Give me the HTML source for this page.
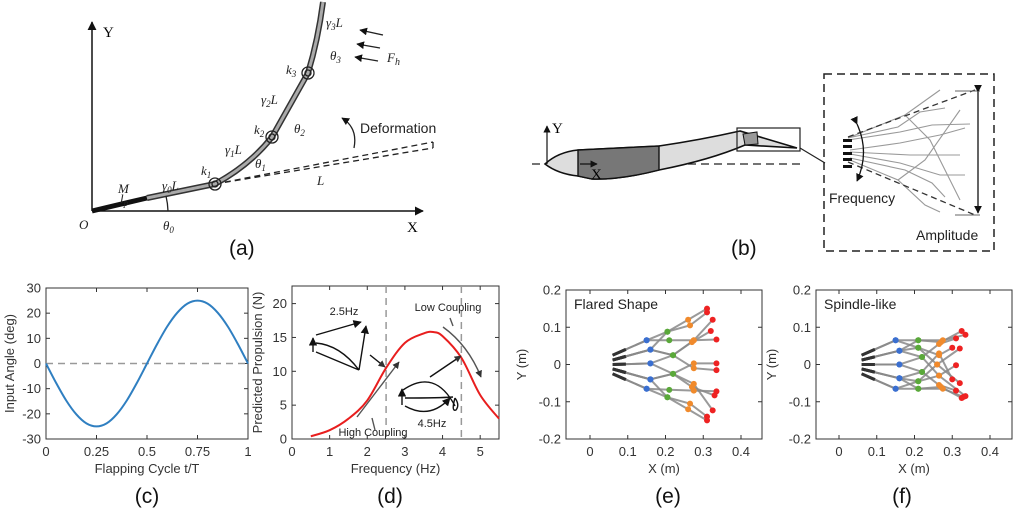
<!DOCTYPE html>
<html><head><meta charset="utf-8"><style>
html,body{margin:0;padding:0;background:#fff}
svg{display:block;font-family:"Liberation Sans",sans-serif}
.tk{font-size:13px;fill:#333}
.it{font-family:"Liberation Serif",serif;font-style:italic;font-size:13px;fill:#222}
.pl{font-size:21px;fill:#111}
</style></head><body>
<svg id="fig" width="1024" height="515" viewBox="0 0 1024 515">
<defs>
<marker id="ar" viewBox="0 0 10 10" refX="9" refY="5" markerWidth="6" markerHeight="6" orient="auto"><path d="M0,0L10,5L0,10z" fill="#111"/></marker>
<marker id="ar2" viewBox="0 0 10 10" refX="9" refY="5" markerWidth="5" markerHeight="5" orient="auto"><path d="M0,0L10,5L0,10z" fill="#333"/></marker>
</defs>
<!-- panel a -->
<g>
<line x1="92" y1="211" x2="423" y2="211" stroke="#111" stroke-width="1.5" marker-end="url(#ar)"/>
<line x1="92" y1="211" x2="92" y2="22" stroke="#111" stroke-width="1.5" marker-end="url(#ar)"/>
<text x="103" y="37" font-family="Liberation Serif" font-size="15">Y</text>
<text x="407" y="232" font-family="Liberation Serif" font-size="15">X</text>
<text x="79" y="229" class="it" font-size="15">O</text>
<path d="M215,184 L433,142 M215,184 L433,148 M433,142 L433,148" stroke="#222" stroke-width="1.3" stroke-dasharray="6,4" fill="none"/>
<path d="M92,211 L147,198" stroke="#111" stroke-width="5"/>
<path d="M147,198 L215,184 Q250,165 272,137 L308,73 Q318,40 323,2" stroke="#333" stroke-width="6" fill="none"/>
<path d="M147,198 L215,184 Q250,165 272,137 L308,73 Q318,40 323,2" stroke="#aaa" stroke-width="3" fill="none"/>
<g fill="none" stroke="#222" stroke-width="1.3">
<circle cx="215" cy="184" r="6"/><circle cx="215" cy="184" r="3"/>
<circle cx="272" cy="137" r="6"/><circle cx="272" cy="137" r="3"/>
<circle cx="308" cy="73" r="6"/><circle cx="308" cy="73" r="3"/>
<path d="M168,211 A76,76 0 0 0 166,196"/>
<path d="M354,148 Q358,128 342,118" marker-end="url(#ar)"/>
<line x1="383" y1="35" x2="360" y2="30" marker-end="url(#ar)"/>
<line x1="380" y1="48" x2="357" y2="44" marker-end="url(#ar)"/>
<line x1="378" y1="61" x2="355" y2="57" marker-end="url(#ar)"/>
</g>
<text x="118" y="193" class="it">M</text><text x="120" y="203" class="it">l<tspan font-size="9" dy="3">p</tspan></text>
<text x="162" y="190" class="it">γ<tspan font-size="9" dy="3">0</tspan><tspan dy="-3">L</tspan></text>
<text x="201" y="175" class="it">k<tspan font-size="9" dy="3">1</tspan></text>
<text x="225" y="154" class="it">γ<tspan font-size="9" dy="3">1</tspan><tspan dy="-3">L</tspan></text>
<text x="255" y="168" class="it">θ<tspan font-size="9" dy="3">1</tspan></text>
<text x="254" y="134" class="it">k<tspan font-size="9" dy="3">2</tspan></text>
<text x="261" y="104" class="it">γ<tspan font-size="9" dy="3">2</tspan><tspan dy="-3">L</tspan></text>
<text x="294" y="133" class="it">θ<tspan font-size="9" dy="3">2</tspan></text>
<text x="286" y="74" class="it">k<tspan font-size="9" dy="3">3</tspan></text>
<text x="326" y="27" class="it">γ<tspan font-size="9" dy="3">3</tspan><tspan dy="-3">L</tspan></text>
<text x="330" y="60" class="it">θ<tspan font-size="9" dy="3">3</tspan></text>
<text x="387" y="62" class="it" font-size="15">F<tspan font-size="10" dy="3">h</tspan></text>
<text x="317" y="185" class="it">L</text>
<text x="163" y="230" class="it">θ<tspan font-size="9" dy="3">0</tspan></text>
<text x="360" y="133" font-size="14" fill="#222">Deformation</text>
<text x="229" y="255" class="pl">(a)</text>
</g>
<!-- panel b -->
<g>
<line x1="532" y1="164" x2="800" y2="164" stroke="#222" stroke-width="1.2" stroke-dasharray="8,5"/>
<path d="M545,164 Q558,152 578,150 L659,146 Q700,140 740,131 L797,148 L745,145 Q710,160 659,170 Q620,180 592,179 L578,176 Q558,174 545,164Z" fill="#ddd" stroke="#111" stroke-width="1.6"/>
<path d="M578,150 L659,146 L659,170 Q620,180 592,179 L578,176Z" fill="#777" stroke="#111" stroke-width="1.4"/>
<path d="M743,134 L757,132 L758,144 L745,145Z" fill="#999" stroke="#111"/>
<rect x="737" y="128" width="63" height="23" fill="none" stroke="#222" stroke-width="1.2"/>
<line x1="800" y1="148" x2="825" y2="163" stroke="#222" stroke-width="1.2"/>
<line x1="547" y1="164" x2="547" y2="126" stroke="#111" stroke-width="1.2" marker-end="url(#ar)"/>
<line x1="580" y1="164" x2="597" y2="164" stroke="#111" stroke-width="1.2" marker-end="url(#ar)"/>
<text x="552" y="133" font-family="Liberation Serif" font-size="15">Y</text>
<text x="591" y="179" font-family="Liberation Serif" font-size="15">X</text>
<rect x="824" y="74" width="170" height="177" fill="none" stroke="#222" stroke-width="1.5" stroke-dasharray="8,5"/>
<g stroke="#999" stroke-width="1.1" fill="none">
<path d="M848,138 L905,115 L940,90 M848,138 L898,127 L920,112 L945,108 M848,140 L900,132 L932,125 L970,124 M850,150 L900,143 L940,135 L965,128 M850,152 L910,155 L960,155 M850,154 L900,163 L940,175 L965,175 M850,158 L905,170 L932,183 L945,197 M850,160 L898,180 L925,205 L940,212"/>
<path d="M905,115 L930,140 L950,180 L960,200 M898,180 L925,160 L960,110"/>
</g>
<path d="M848,137 L975,90 M848,162 L975,215" stroke="#333" stroke-width="1.3" stroke-dasharray="6,4" fill="none"/>
<line x1="955" y1="91" x2="980" y2="91" stroke="#666"/><line x1="955" y1="215" x2="980" y2="215" stroke="#666"/>
<line x1="978" y1="92" x2="978" y2="213" stroke="#111" stroke-width="1.3" marker-end="url(#ar)" marker-start="url(#ar)"/>
<path d="M857,124 Q870,152 857,181" stroke="#111" stroke-width="1.3" fill="none" marker-end="url(#ar)" marker-start="url(#ar)"/>
<g fill="#111"><rect x="843" y="139" width="9" height="3"/><rect x="843" y="145" width="9" height="3"/><rect x="843" y="152" width="9" height="3"/><rect x="843" y="158" width="9" height="3"/><rect x="843" y="165" width="9" height="3"/></g>
<text x="829" y="203" font-size="14" fill="#222">Frequency</text>
<text x="916" y="240" font-size="14" fill="#222">Amplitude</text>
<text x="731" y="255" class="pl">(b)</text>
</g>
<g id="charts"></g>
</svg>
<script>
// panel c data
const cT=[0,0.05,0.1,0.15,0.2,0.25,0.3,0.35,0.4,0.45,0.5,0.55,0.6,0.65,0.7,0.75,0.8,0.85,0.9,0.95,1];
const cAngle=[0,-7.7,-14.7,-20.2,-23.8,-25,-23.8,-20.2,-14.7,-7.7,0,7.7,14.7,20.2,23.8,25,23.8,20.2,14.7,7.7,0];
const cXTicks=[0,0.25,0.5,0.75,1];
const cXLabels=["0","0.25","0.5","0.75","1"];
const cYTicks=[-30,-20,-10,0,10,20,30];
// panel d data
const dFreq=[0.5,1,1.5,2,2.5,3,3.5,3.75,4,4.5,5,5.5];
const dThrust=[0.4,1.3,3,5.7,10.5,14.2,15.6,15.8,15.2,12,6.5,3];
const dXTicks=[0,1,2,3,4,5];
const dYTicks=[0,5,10,15,20];
const dMarkers=[2.5,4.5];
// panel e/f data: polylines base->blue->green->orange->red
const eRays=[
[[0.06,0.025],[0.15,0.065],[0.205,0.088],[0.26,0.12],[0.31,0.15]],
[[0.06,0.025],[0.15,0.065],[0.21,0.065],[0.275,0.065],[0.335,0.067]],
[[0.06,0.012],[0.16,0.04],[0.205,0.088],[0.265,0.105],[0.31,0.14]],
[[0.06,0.012],[0.16,0.04],[0.22,0.025],[0.275,0.065],[0.325,0.12]],
[[0.06,0.012],[0.16,0.04],[0.22,0.025],[0.27,0.06],[0.32,0.09]],
[[0.06,0],[0.16,0.003],[0.22,0.025],[0.275,-0.01],[0.335,-0.015]],
[[0.06,0],[0.16,0.003],[0.22,-0.025],[0.275,0.003],[0.335,0.003]],
[[0.06,-0.012],[0.16,-0.04],[0.22,-0.025],[0.27,-0.06],[0.33,-0.083]],
[[0.06,-0.012],[0.16,-0.04],[0.205,-0.088],[0.265,-0.105],[0.31,-0.14]],
[[0.06,-0.025],[0.15,-0.065],[0.205,-0.088],[0.26,-0.12],[0.31,-0.15]],
[[0.06,-0.025],[0.15,-0.065],[0.21,-0.068],[0.275,-0.07],[0.335,-0.072]],
[[0.06,-0.012],[0.16,-0.04],[0.22,-0.025],[0.275,-0.052],[0.325,-0.123]]];
const fRays=[
[[0.06,0.025],[0.15,0.065],[0.21,0.065],[0.27,0.06],[0.325,0.09]],
[[0.06,0.025],[0.15,0.065],[0.21,0.045],[0.265,0.025],[0.3,0.045]],
[[0.06,0.012],[0.16,0.037],[0.21,0.065],[0.275,0.065],[0.335,0.08]],
[[0.06,0.012],[0.16,0.037],[0.22,0.02],[0.265,0.055],[0.31,0.07]],
[[0.06,0.012],[0.16,0.037],[0.21,0.045],[0.26,0.0],[0.32,0.043]],
[[0.06,0],[0.16,0],[0.22,0.02],[0.265,-0.03],[0.31,-0.002]],
[[0.06,0],[0.16,0],[0.22,-0.02],[0.265,0.03],[0.3,-0.04]],
[[0.06,-0.012],[0.16,-0.037],[0.21,-0.045],[0.26,0.0],[0.32,-0.05]],
[[0.06,-0.012],[0.16,-0.037],[0.22,-0.02],[0.265,-0.055],[0.31,-0.07]],
[[0.06,-0.025],[0.15,-0.065],[0.21,-0.065],[0.27,-0.06],[0.325,-0.09]],
[[0.06,-0.025],[0.15,-0.065],[0.21,-0.045],[0.265,-0.03],[0.335,-0.085]],
[[0.06,-0.012],[0.16,-0.037],[0.21,-0.065],[0.275,-0.065],[0.33,-0.087]]];
const efXTicks=[0,0.1,0.2,0.3,0.4];
const efYTicks=[-0.2,-0.1,0,0.1,0.2];
const nodeColors=["#333","#3a6fd0","#5aa83a","#f08a2c","#ee2222"];

const NS="http://www.w3.org/2000/svg";
const root=document.getElementById('charts');
function mk(tag,attrs,parent){const e=document.createElementNS(NS,tag);for(const k in attrs)e.setAttribute(k,attrs[k]);(parent||root).appendChild(e);return e;}
function lin(d0,d1,r0,r1){return v=>r0+(v-d0)/(d1-d0)*(r1-r0);}
function axes(g,L,R,T,B,sx,sy,xt,xl,yt,yl,xlab,ylab,ylabX){
 mk('rect',{x:L,y:T,width:R-L,height:B-T,fill:'none',stroke:'#333','stroke-width':1},g);
 xt.forEach((v,i)=>{const x=sx(v);mk('line',{x1:x,y1:B,x2:x,y2:B-4,stroke:'#333'},g);mk('line',{x1:x,y1:T,x2:x,y2:T+4,stroke:'#333'},g);
  const t=mk('text',{x:x,y:B+17,'text-anchor':'middle',class:'tk'},g);t.textContent=xl[i];});
 yt.forEach((v,i)=>{const y=sy(v);mk('line',{x1:L,y1:y,x2:L+4,y2:y,stroke:'#333'},g);mk('line',{x1:R,y1:y,x2:R-4,y2:y,stroke:'#333'},g);
  const t=mk('text',{x:L-5,y:y+4.5,'text-anchor':'end',class:'tk'},g);t.textContent=yl[i];});
 const a=mk('text',{x:(L+R)/2,y:B+34,'text-anchor':'middle',class:'tk','font-size':'13'},g);a.textContent=xlab;
 const b=mk('text',{x:ylabX,y:(T+B)/2,'text-anchor':'middle',class:'tk','font-size':'13',transform:`rotate(-90 ${ylabX} ${(T+B)/2})`},g);b.textContent=ylab;
}
function pathOf(xs,ys,sx,sy){return xs.map((v,i)=>(i?'L':'M')+sx(v).toFixed(1)+','+sy(ys[i]).toFixed(1)).join('');}
function smooth(xs,ys,sx,sy){const p=xs.map((v,i)=>[sx(v),sy(ys[i])]);let d='M'+p[0];for(let i=0;i<p.length-1;i++){const p0=p[i-1]||p[i],p1=p[i],p2=p[i+1],p3=p[i+2]||p2;
 d+='C'+(p1[0]+(p2[0]-p0[0])/6)+','+(p1[1]+(p2[1]-p0[1])/6)+' '+(p2[0]-(p3[0]-p1[0])/6)+','+(p2[1]-(p3[1]-p1[1])/6)+' '+p2;}return d;}

// panel c
{const g=mk('g',{});
 const L=46,R=248,T=288,B=439,sx=lin(0,1,L,R),sy=lin(-30,30,B,T);
 axes(g,L,R,T,B,sx,sy,cXTicks,cXLabels,cYTicks,cYTicks.map(String),'Flapping Cycle t/T','Input Angle (deg)',14);
 const z=mk('line',{x1:L,x2:R,y1:sy(0),y2:sy(0),stroke:'#999','stroke-width':1.5,'stroke-dasharray':'7,5'},g);
 
 const p=mk('path',{d:smooth(cT,cAngle,sx,sy),fill:'none',stroke:'#2f7fc1','stroke-width':2},g);
 
 const l=mk('text',{x:147,y:503,'text-anchor':'middle',class:'pl'},g);l.textContent='(c)';
 }
// panel d
{const g=mk('g',{});
 const L=292,R=499,T=286,B=439,sx=lin(0,5.5,L,R),sy=lin(0,22.6,B,T);
 axes(g,L,R,T,B,sx,sy,dXTicks,dXTicks.map(String),dYTicks,dYTicks.map(String),'Frequency (Hz)','Predicted Propulsion (N)',262);
 dMarkers.forEach(f=>{const m=mk('line',{x1:sx(f),x2:sx(f),y1:T,y2:B,stroke:'#999','stroke-width':1.5,'stroke-dasharray':'7,5'},g);
  });
 const p=mk('path',{d:smooth(dFreq,dThrust,sx,sy),fill:'none',stroke:'#e81e1e','stroke-width':2},g);
 
 const an=mk('g',{stroke:'#111','stroke-width':1.4,fill:'none'},g);
 
 mk('path',{d:'M313,352 L313,338','marker-end':'url(#ar)'},an);
 mk('path',{d:'M316,335 L361,322','marker-end':'url(#ar)'},an);
 mk('path',{d:'M316,343 Q340,345 359,370 M316,352 L359,370'},an);
 mk('path',{d:'M359,370 L366,326','marker-end':'url(#ar)'},an);
 mk('path',{d:'M370,355 L385,367','marker-end':'url(#ar2)'},an);
 mk('path',{d:'M402,405 L402,389','marker-end':'url(#ar)'},an);
 mk('path',{d:'M403,390 Q435,368 455,406'},an);
 mk('path',{d:'M405,398 Q440,398 453,397 M405,406 Q430,420 450,398','marker-end':'url(#ar)'},an);
 mk('path',{d:'M455,398 Q451,412 456,410 Q460,405 455,398'},an);
 mk('path',{d:'M430,377 L461,356','marker-end':'url(#ar2)'},an);
 mk('path',{d:'M357,417 L399,362',stroke:'#555','marker-end':'url(#ar2)'},an);
 mk('path',{d:'M443,327 Q468,345 481,377',stroke:'#555','marker-end':'url(#ar2)'},an);
 mk('path',{d:'M372,418 L375,430 M453,326 L450,318',stroke:'#555'},an);
 const t1=mk('text',{x:344,y:315,'text-anchor':'middle','font-size':'11',fill:'#222'},g);t1.textContent='2.5Hz';
 const t2=mk('text',{x:448,y:311,'text-anchor':'middle','font-size':'11',fill:'#222'},g);t2.textContent='Low Coupling';
 const t3=mk('text',{x:373,y:436,'text-anchor':'middle','font-size':'11',fill:'#222'},g);t3.textContent='High Coupling';
 const t4=mk('text',{x:432,y:427,'text-anchor':'middle','font-size':'11',fill:'#222'},g);t4.textContent='4.5Hz';
 const l=mk('text',{x:390,y:503,'text-anchor':'middle',class:'pl'},g);l.textContent='(d)';
 }
// panels e,f
function finPanel(name,rays,L,R,x0,x4,title,lbl,lx){
 const g=mk('g',{});
 const T=290,B=439,sx=lin(0,0.4,x0,x4),sy=lin(-0.2,0.2,B,T);
 axes(g,L,R,T,B,sx,sy,efXTicks,efXTicks.map(String),efYTicks,efYTicks.map(String),'X (m)','Y (m)',L-40);
 rays.forEach(r=>{const s=mk('path',{d:pathOf(r.map(p=>p[0]),r.map(p=>p[1]),sx,sy),fill:'none',stroke:'#888','stroke-width':2,opacity:0.85},g);
  
  mk('line',{x1:sx(r[0][0]),y1:sy(r[0][1]),x2:sx(r[0][0]+0.035),y2:sy(r[0][1]+(r[1][1]-r[0][1])*0.035/(r[1][0]-r[0][0])),stroke:'#333','stroke-width':3},g);});
 rays.forEach(r=>r.forEach((p,i)=>{if(i>0){const c=mk('circle',{cx:sx(p[0]),cy:sy(p[1]),r:3,fill:nodeColors[i]},g);
  }}));
 const t=mk('text',{x:L+8,y:T+19,'font-size':'14',fill:'#222'},g);t.textContent=title;
 const l=mk('text',{x:lx,y:503,'text-anchor':'middle',class:'pl'},g);l.textContent=lbl;
 
}
finPanel('panel-e-flared-shape',eRays,566,762,590,741,'Flared Shape','(e)',668);
finPanel('panel-f-spindle-like',fRays,816,1012,839,990,'Spindle-like','(f)',902);
</script>
</body></html>
